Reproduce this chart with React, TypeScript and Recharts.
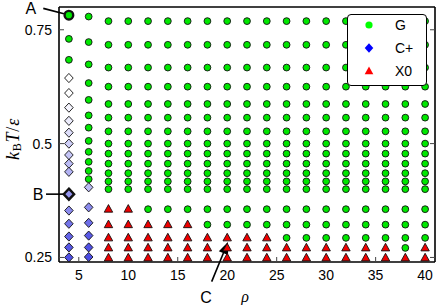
import React from 'react';
import { ScatterChart, Scatter, XAxis, YAxis, Legend, ReferenceLine, ReferenceDot } from 'recharts';

// density columns
const rhoColumns = [4, 6, 8, 10, 12, 14, 16, 18, 20, 22, 24, 26, 28, 30, 32, 34, 36, 38, 40];
// temperatures sampled at each density (top -> bottom)
const tempsRho4 = [0.782, 0.730, 0.684, 0.644, 0.611, 0.579, 0.550, 0.524, 0.500, 0.475, 0.456, 0.438, 0.389, 0.353, 0.324, 0.296, 0.272, 0.250];
const tempsRho6 = [0.779, 0.723, 0.674, 0.633, 0.596, 0.562, 0.535, 0.506, 0.482, 0.460, 0.440, 0.422, 0.404, 0.360, 0.326, 0.298, 0.272, 0.251];
const tempsRhoRest = [0.769, 0.717, 0.667, 0.625, 0.587, 0.557, 0.527, 0.500, 0.478, 0.456, 0.435, 0.417, 0.400, 0.356, 0.322, 0.293, 0.271, 0.249];
// phase per column, top -> bottom (G = gas, C = C+, X = X0)
const phaseColumns = [
  'GGGCCCCCCCCCCCCCCC', // 4
  'GGGGGGGGGGGGCCCCCC', // 6
  'GGGGGGGGGGGGGXXXXX', // 8
  'GGGGGGGGGGGGGXXXXX', // 10
  'GGGGGGGGGGGGGGXXXX', // 12
  'GGGGGGGGGGGGGGXXXX', // 14
  'GGGGGGGGGGGGGGXXXX', // 16
  'GGGGGGGGGGGGGGGXXX', // 18
  'GGGGGGGGGGGGGGGXXX', // 20
  'GGGGGGGGGGGGGGGXXX', // 22
  'GGGGGGGGGGGGGGGXXX', // 24
  'GGGGGGGGGGGGGGGGXX', // 26
  'GGGGGGGGGGGGGGGGXX', // 28
  'GGGGGGGGGGGGGGGGXX', // 30
  'GGGGGGGGGGGGGGGGXX', // 32
  'GGGGGGGGGGGGGGGGXX', // 34
  'GGGGGGGGGGGGGGGGXX', // 36
  'GGGGGGGGGGGGGGGGGX', // 38
  'GGGGGGGGGGGGGGGGXX', // 40
];
// C+ order shading (0 = white, 1 = blue)
const orderRho4 = [0, 0, 0.05, 0.1, 0.17, 0.25, 0.3, 0.35, 0.4, 0.55, 0.6, 0.72, 0.8, 0.86, 0.9];
const orderRho6 = [0.35, 0.6, 0.75, 0.86, 0.9, 0.93];

const xTicks = [5, 10, 15, 20, 25, 30, 35, 40];
const yTicks = [0.25, 0.5, 0.75];

const highlighted = [
  { label: 'A', rho: 4, row: 0 },
  { label: 'B', rho: 4, row: 12 },
];

const legendItems = [
  { key: 'G', label: 'G' },
  { key: 'C', label: 'C+' },
  { key: 'X', label: 'X0' },
];

type Pt = { rho: number; T: number; phase: string; order: number; hl: boolean };

const points: Pt[] = [];
rhoColumns.forEach((rho, ci) => {
  const temps = rho === 4 ? tempsRho4 : rho === 6 ? tempsRho6 : tempsRhoRest;
  const orders = rho === 4 ? orderRho4 : rho === 6 ? orderRho6 : [];
  let k = 0;
  phaseColumns[ci].split('').forEach((ph, ri) => {
    const order = ph === 'C' ? orders[k++] : 0;
    const hl = highlighted.some((h) => h.rho === rho && h.row === ri);
    points.push({ rho, T: temps[ri], phase: ph, order, hl });
  });
});
const gPoints = points.filter((p) => p.phase === 'G');
const cPoints = points.filter((p) => p.phase === 'C');
const xPoints = points.filter((p) => p.phase === 'X');

const shadeColor = (o: number) => {
  const r = Math.round(255 - o * (255 - 62));
  const g = Math.round(255 - o * (255 - 62));
  const b = Math.round(255 - o * (255 - 225));
  return `rgb(${r},${g},${b})`;
};

const GREEN = '#00e800';
const RED = '#ee0000';

const GShape = (p: any) => {
  const { cx, cy, payload } = p;
  const hl = payload && payload.hl;
  return <circle cx={cx} cy={cy} r={hl ? 4.3 : 3.4} fill={GREEN} stroke="#111" strokeWidth={hl ? 2.4 : 0.9} />;
};
const CShape = (p: any) => {
  const { cx, cy, payload } = p;
  const hl = payload && payload.hl;
  const w = hl ? 5.2 : 4.3;
  const h = hl ? 5.5 : 4.6;
  return (
    <polygon
      points={`${cx},${cy - h} ${cx + w},${cy} ${cx},${cy + h} ${cx - w},${cy}`}
      fill={shadeColor(payload ? payload.order : 0)}
      stroke="#111"
      strokeWidth={hl ? 2.4 : 0.9}
    />
  );
};
const XShape = (p: any) => {
  const { cx, cy } = p;
  return (
    <polygon
      points={`${cx},${cy - 4.6} ${cx + 4.2},${cy + 3} ${cx - 4.2},${cy + 3}`}
      fill={RED}
      stroke="#111"
      strokeWidth={0.9}
    />
  );
};

const EmptyTick = () => <g />;

const ArrowShape = (p: any) => {
  const { x1, y1, x2, y2 } = p;
  const dx = x2 - x1;
  const dy = y2 - y1;
  const len = Math.hypot(dx, dy) || 1;
  const ux = dx / len;
  const uy = dy / len;
  const hl = 12;
  const hw = 5;
  const bx = x2 - ux * hl;
  const by = y2 - uy * hl;
  return (
    <g>
      <line x1={x1} y1={y1} x2={bx} y2={by} stroke="#000" strokeWidth={1.6} />
      <polygon points={`${x2},${y2} ${bx - uy * hw},${by + ux * hw} ${bx + uy * hw},${by - ux * hw}`} fill="#000" />
    </g>
  );
};

const PlainLine = (p: any) => {
  const { x1, y1, x2, y2 } = p;
  return <line x1={x1} y1={y1} x2={x2} y2={y2} stroke="#000" strokeWidth={1.6} />;
};

const makeText = (label: string) => (p: any) => (
  <text
    x={p.cx}
    y={p.cy}
    textAnchor="middle"
    dominantBaseline="central"
    fontSize={16}
    fontFamily="Liberation Sans, Arial, sans-serif"
    fill="#000"
  >
    {label}
  </text>
);

const LegendBox = () => (
  <div
    style={{
      width: 80,
      height: 72,
      boxSizing: 'border-box',
      border: '1px solid #000',
      borderRadius: 4,
      background: '#fff',
    }}
  >
    <svg width={78} height={70} style={{ display: 'block' }}>
      {legendItems.map((it, i) => {
        const cy = 10 + i * 23;
        const cx = 21;
        let marker: React.ReactNode = null;
        if (it.key === 'G') marker = <circle cx={cx} cy={cy} r={3.6} fill="#00ff00" />;
        if (it.key === 'C')
          marker = <polygon points={`${cx},${cy - 4.8} ${cx + 4.3},${cy} ${cx},${cy + 4.8} ${cx - 4.3},${cy}`} fill="#0000ff" />;
        if (it.key === 'X')
          marker = <polygon points={`${cx},${cy - 4.6} ${cx + 4.3},${cy + 3.2} ${cx - 4.3},${cy + 3.2}`} fill="#ff0000" />;
        return (
          <g key={it.key}>
            {marker}
            <text
              x={47}
              y={cy}
              dominantBaseline="central"
              fontSize={14}
              fontFamily="Liberation Sans, Arial, sans-serif"
              fill="#000"
            >
              {it.label}
            </text>
          </g>
        );
      })}
    </svg>
  </div>
);

const tickFont = { fontSize: 14, fill: '#000', fontFamily: 'Liberation Sans, Arial, sans-serif' };

export default function App() {
  return (
    <div style={{ position: 'absolute', left: 0, top: 0, width: 436, height: 305, background: '#fff' }}>
      <ScatterChart width={436} height={305} margin={{ top: 6, right: 0, bottom: 0, left: 0 }}>
        <XAxis
          xAxisId={0}
          type="number"
          dataKey="rho"
          domain={[3, 41]}
          allowDataOverflow
          ticks={xTicks}
          interval={0}
          height={43}
          tickSize={-5}
          tickMargin={13}
          tick={tickFont}
          axisLine={{ stroke: '#000', strokeWidth: 1.6 }}
          tickLine={{ stroke: '#444' }}
        />
        <XAxis
          xAxisId="top"
          orientation="top"
          type="number"
          domain={[3, 41]}
          allowDataOverflow
          ticks={xTicks}
          interval={0}
          height={1}
          tickSize={-5}
          tick={EmptyTick}
          axisLine={{ stroke: '#000', strokeWidth: 1.6 }}
          tickLine={{ stroke: '#444' }}
        />
        <YAxis
          yAxisId={0}
          type="number"
          dataKey="T"
          domain={[0.24, 0.8]}
          allowDataOverflow
          ticks={yTicks}
          interval={0}
          width={59}
          tickSize={-5}
          tickMargin={12}
          tick={tickFont}
          axisLine={{ stroke: '#000', strokeWidth: 1.6 }}
          tickLine={{ stroke: '#444' }}
        />
        <YAxis
          yAxisId="right"
          orientation="right"
          type="number"
          domain={[0.24, 0.8]}
          allowDataOverflow
          ticks={yTicks}
          interval={0}
          width={1}
          tickSize={-5}
          tick={EmptyTick}
          axisLine={{ stroke: '#000', strokeWidth: 1.6 }}
          tickLine={{ stroke: '#444' }}
        />
        <Scatter name="G" data={gPoints} shape={GShape} isAnimationActive={false} />
        <Scatter name="C+" data={cPoints} shape={CShape} isAnimationActive={false} />
        <Scatter name="X0" data={xPoints} shape={XShape} isAnimationActive={false} />
        <ReferenceLine
          segment={[{ x: 1.41, y: 0.797 }, { x: 3.5, y: 0.785 }]}
          ifOverflow="visible"
          shape={PlainLine}
        />
        <ReferenceDot x={0.15} y={0.797} r={0} ifOverflow="visible" shape={makeText('A')} />
        <ReferenceLine
          segment={[{ x: 1.69, y: 0.389 }, { x: 3.45, y: 0.389 }]}
          ifOverflow="visible"
          shape={PlainLine}
        />
        <ReferenceDot x={0.88} y={0.389} r={0} ifOverflow="visible" shape={makeText('B')} />
        <ReferenceLine
          segment={[{ x: 18.43, y: 0.197 }, { x: 20.08, y: 0.284 }]}
          ifOverflow="visible"
          shape={ArrowShape}
        />
        <ReferenceDot x={17.86} y={0.163} r={0} ifOverflow="visible" shape={makeText('C')} />
        <Legend
          layout="vertical"
          align="center"
          verticalAlign="middle"
          wrapperStyle={{ left: 347, top: 14, width: 80, height: 72 }}
          content={() => <LegendBox />}
        />
      </ScatterChart>
      <svg
        width={436}
        height={305}
        style={{ position: 'absolute', left: 0, top: 0, pointerEvents: 'none' }}
      >
        <text
          transform="translate(13,139) rotate(-90)"
          textAnchor="middle"
          dominantBaseline="central"
          fontSize={18}
          letterSpacing={0.8}
          fontFamily="Liberation Serif, Times New Roman, serif"
          fill="#000"
        >
          <tspan fontStyle="italic">k</tspan>
          <tspan fontSize={12} dy={4}>B</tspan>
          <tspan fontStyle="italic" dy={-4}>T</tspan>
          <tspan>/</tspan>
          <tspan fontStyle="italic">ε</tspan>
        </text>
        <text
          x={245}
          y={296}
          textAnchor="middle"
          dominantBaseline="central"
          fontSize={16}
          fontStyle="italic"
          fontFamily="Liberation Serif, Times New Roman, serif"
          fill="#000"
        >
          ρ
        </text>
      </svg>
    </div>
  );
}
